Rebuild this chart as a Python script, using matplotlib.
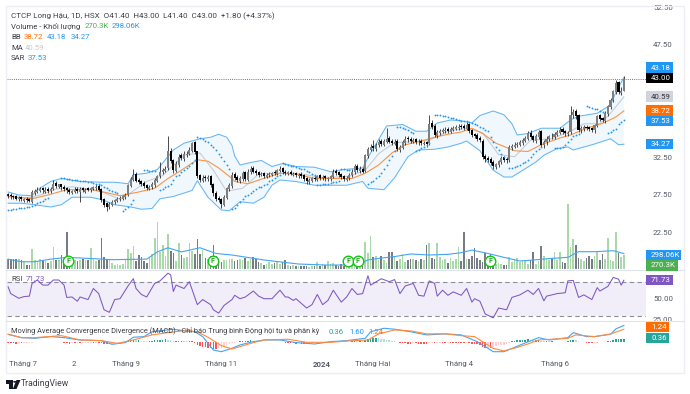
import matplotlib
matplotlib.use('Agg')
import matplotlib.pyplot as plt
from matplotlib.patches import Rectangle, Polygon, Circle

W, H = 690, 394
plt.rcParams['font.family'] = ['Roboto', 'DejaVu Sans']

closes = [27.4,27.3,27.2,27.0,27.1,26.9,26.9,26.8,26.7,27.9,
28.0,28.2,28.3,28.1,28.2,28.0,28.3,29.0,28.7,28.9,
28.5,28.3,28.1,27.9,28.0,28.2,28.0,28.3,28.1,28.2,
28.2,28.4,28.5,28.6,28.2,26.8,26.2,25.9,26.3,26.6,
26.8,27.0,27.1,27.3,27.5,28.8,29.6,30.2,29.4,29.2,
29.0,28.7,28.4,28.6,28.9,29.5,30.0,30.6,30.8,31.0,
33.3,32.0,30.8,31.6,32.6,32.4,32.9,33.0,33.5,34.4,
33.2,30.0,29.5,29.8,29.7,29.9,28.8,27.7,27.0,26.8,
26.3,27.2,28.4,28.8,30.2,29.8,29.5,29.7,30.4,29.6,
30.6,31.0,30.6,30.4,30.2,30.3,30.0,30.2,30.3,30.4,
30.4,30.8,31.0,30.5,30.4,30.5,30.3,30.3,30.2,30.2,
30.0,29.6,29.3,29.5,29.7,29.6,30.0,29.8,29.9,29.7,
29.7,30.0,30.6,30.4,30.2,29.9,29.6,29.8,30.2,30.6,
31.3,30.8,30.9,30.6,32.8,33.6,33.9,33.7,34.2,34.6,
34.3,34.7,35.0,34.6,34.4,34.6,33.6,33.9,34.5,35.0,
34.9,34.7,34.8,34.6,34.6,34.4,34.4,34.3,37.0,36.6,
35.5,35.9,36.0,36.1,36.2,36.0,36.3,36.4,36.5,36.6,
36.6,36.4,36.8,36.0,35.5,35.4,35.0,34.8,32.6,32.3,
32.2,31.8,31.3,31.6,32.0,32.4,32.2,32.1,33.9,34.0,
34.2,34.3,34.5,34.8,35.1,35.7,35.2,34.8,35.3,35.9,
34.2,34.6,35.0,35.3,35.3,35.6,35.9,36.2,35.9,35.7,
35.8,38.2,38.6,38.0,36.2,36.4,36.5,36.4,36.3,36.2,
36.8,38.0,37.6,37.5,38.4,39.3,40.2,41.3,42.4,41.2,41.4,43.0]
opens = [27.6,27.5,27.4,27.3,26.9,27.2,26.7,27.0,26.9,26.6,
27.7,27.9,28.0,28.4,27.9,28.3,28.0,28.3,29.1,28.6,
28.9,28.6,28.4,28.2,27.8,27.9,28.3,27.9,28.4,27.9,
28.4,28.1,28.3,28.4,28.7,28.3,26.9,26.4,25.9,26.2,
26.5,26.7,26.9,27.0,27.2,27.5,28.7,29.5,30.3,29.5,
29.3,29.1,28.8,28.3,28.5,28.8,29.4,30.0,30.5,30.7,
31.1,33.4,32.1,30.7,31.5,32.8,32.3,32.8,33.0,33.4,
34.5,33.3,30.1,29.4,29.9,29.6,30.0,28.9,27.8,27.1,
26.9,26.2,27.1,28.3,28.7,30.3,29.9,29.4,29.6,30.5,
29.5,30.5,31.1,30.7,30.5,30.1,30.4,29.9,30.1,30.2,
30.6,30.3,30.7,31.1,30.6,30.3,30.6,30.2,30.4,30.0,
30.3,30.1,29.7,29.2,29.4,29.8,29.5,30.1,29.7,30.0,
29.6,29.6,29.9,30.7,30.5,30.3,30.0,29.5,29.7,30.1,
30.5,31.4,30.7,31.0,30.7,32.7,33.5,34.0,33.6,34.1,
34.7,34.2,34.6,35.1,34.7,34.3,34.7,33.5,33.8,34.4,
35.1,35.0,34.6,34.9,34.5,34.7,34.3,34.5,34.4,37.1,
36.7,35.4,35.8,35.9,36.0,36.3,35.9,36.2,36.3,36.4,
36.7,36.7,36.3,36.9,36.1,35.6,35.5,35.1,34.7,32.7,
32.4,32.3,31.9,31.2,31.5,31.9,32.5,32.3,32.2,33.8,
33.9,34.1,34.2,34.4,34.7,35.0,35.8,35.3,34.7,35.2,
36.0,34.1,34.5,34.9,35.4,35.2,35.5,35.8,36.3,36.0,
35.6,35.9,38.1,38.7,38.1,36.1,36.3,36.6,36.5,36.4,
36.1,36.7,38.1,37.7,37.4,38.3,39.2,40.1,41.2,42.5,41.1,41.4]
highs = [27.8,27.7,27.5,27.5,27.3,27.4,27.1,27.2,27.1,28.2,
28.3,28.5,28.6,28.6,28.5,28.5,28.5,29.5,29.3,29.0,
29.0,28.8,28.6,28.4,28.2,28.5,28.5,28.5,28.6,28.4,
28.6,28.6,28.7,28.9,28.9,28.4,27.1,26.6,26.5,26.8,
27.0,27.2,27.3,27.5,27.7,29.0,29.9,31.0,30.5,29.8,
29.5,29.3,29.0,28.8,29.2,29.7,30.2,31.9,31.1,31.3,
35.3,33.7,32.3,32.0,33.0,33.1,33.3,33.3,33.9,34.6,
34.7,33.4,30.3,30.1,30.1,30.2,30.1,29.1,28.0,27.3,
27.1,27.5,28.6,29.1,30.5,30.5,30.2,30.0,30.7,30.7,
30.9,31.3,31.3,30.9,30.7,30.5,30.6,30.4,30.5,30.6,
30.8,31.0,31.3,31.2,30.8,30.7,30.8,30.5,30.6,30.4,
30.5,30.3,29.9,29.7,29.9,30.0,30.2,30.3,30.1,30.1,
29.9,30.2,30.9,31.0,30.7,30.4,30.2,30.0,30.4,31.0,
31.6,31.6,31.3,31.2,33.0,33.9,34.3,34.8,34.4,34.9,
35.0,35.0,36.4,35.3,35.0,34.9,34.9,34.2,34.8,35.3,
35.4,35.2,35.1,35.1,34.9,34.9,34.7,34.7,38.2,37.5,
36.9,36.2,36.3,36.4,36.5,36.5,36.5,36.7,36.8,36.9,
37.0,36.9,37.2,37.1,36.3,35.8,35.7,35.3,34.9,33.0,
32.7,32.5,32.1,31.8,32.2,32.7,32.7,32.5,34.2,34.3,
34.5,34.6,34.8,35.1,35.4,36.0,36.1,35.5,35.6,36.2,
36.2,34.8,35.3,35.5,35.7,35.9,36.1,36.5,36.5,36.2,
36.0,39.3,39.0,38.9,38.3,36.7,36.8,36.8,36.7,36.6,
37.0,38.2,38.3,37.9,38.7,39.5,40.4,41.5,42.8,42.7,41.9,43.4]
lows = [27.1,27.0,26.9,26.8,26.7,26.7,26.6,26.6,26.5,26.4,
27.5,27.7,27.9,27.8,27.7,27.8,27.8,28.1,28.4,28.4,
28.2,28.0,27.8,27.6,27.6,27.7,27.8,26.6,27.9,27.7,
28.0,27.9,28.1,28.2,28.0,26.5,25.9,25.3,25.6,26.0,
26.3,26.5,26.7,26.8,27.0,27.3,28.5,29.3,29.2,28.9,
28.7,28.4,28.1,28.1,28.3,28.6,29.2,29.8,30.3,30.5,
30.8,31.7,30.4,30.5,31.2,32.1,32.0,32.5,32.8,33.2,
33.0,29.7,29.2,29.2,29.4,29.3,28.5,27.4,26.7,26.5,
25.8,26.0,26.9,28.0,28.4,29.5,29.2,29.1,29.4,29.3,
29.3,30.3,30.4,30.2,29.9,30.0,29.8,29.7,29.9,30.0,
30.2,30.1,30.5,30.3,30.1,30.1,30.1,30.0,29.9,29.8,
29.7,29.3,29.0,29.0,29.2,29.3,29.3,29.5,29.5,29.4,
29.4,29.4,29.7,30.1,29.9,29.6,29.3,29.3,29.5,29.9,
30.3,30.5,30.4,30.4,30.5,32.4,33.3,33.4,33.4,33.9,
34.0,34.0,34.4,34.4,34.1,34.1,33.3,33.2,33.6,34.2,
34.6,34.4,34.4,34.3,34.2,34.1,34.1,33.9,34.2,36.3,
35.2,35.1,35.5,35.7,35.8,35.7,35.7,36.0,36.1,36.2,
36.3,36.1,36.1,35.7,35.2,35.1,34.7,34.5,32.3,31.9,
31.9,31.5,30.9,30.9,31.2,31.6,31.9,31.8,31.9,33.5,
33.7,33.9,34.0,34.2,34.5,34.8,34.9,34.5,34.4,35.0,
33.9,33.8,34.2,34.7,35.0,35.0,35.3,35.6,35.6,35.4,
35.3,35.6,37.7,37.6,35.9,35.8,36.0,36.1,36.0,35.9,
35.8,36.5,37.3,37.2,37.1,38.0,39.0,39.9,41.0,40.9,40.8,41.4]

volume = [190,200,190,185,190,180,150,80,70,385,
170,160,190,170,160,120,150,430,180,170,
270,180,720,150,100,170,160,170,190,175,
180,400,200,150,170,590,240,200,170,120,
80,90,70,100,190,380,310,440,150,270,
230,160,110,240,280,600,900,320,460,250,
670,350,300,150,500,270,220,240,500,350,
280,570,280,370,220,200,250,460,260,180,
130,180,170,200,190,160,170,190,180,210,
150,190,225,190,140,120,70,100,130,90,
110,150,100,130,170,80,50,70,60,55,
50,60,55,45,60,50,140,60,90,70,
150,100,120,70,60,100,50,40,50,90,
120,80,70,60,530,300,640,240,260,170,
260,170,120,330,320,230,150,200,280,130,
170,190,200,180,150,200,170,460,510,220,
200,495,230,170,200,120,210,150,200,430,
150,720,200,190,260,400,215,170,140,300,
250,280,150,90,110,90,70,80,240,140,
170,210,130,170,160,100,180,320,100,150,
440,260,200,170,210,330,180,320,130,120,
1254,430,580,460,220,190,160,210,260,190,
250,320,170,280,190,600,170,150,720,300,230,270]
vol_ma_idx = [0,5,10,16,22,30,39,52,56,60,65,72,78,84,96,109,119,131,135,139,145,151,158,165,170,174,180,186,192,197,204,210,214,220,227,231]
vol_ma = [190,140,140,190,225,205,180,190,330,410,330,410,300,270,174,96,77,77,174,205,240,290,270,283,315,366,300,225,154,174,205,225,334,334,353,298]

bb_up_idx = [0,4,9,11,16,20,27,35,40,45,47,52,56,59,62,66,72,76,79,82,84,85,87,92,95,99,103,108,115,121,126,133,136,139,142,148,153,157,161,166,170,174,177,182,186,189,191,195,200,207,211,214,221,226,228,231]
bb_up = [27.9,27.5,27.4,28.2,29.3,29.7,29.3,29.2,29.2,29.0,30.2,30.4,30.9,32.2,33.5,34.4,35.0,35.2,35.6,35.2,34.1,32.7,31.5,31.9,32.1,31.3,31.7,31.3,31.2,30.6,30.9,31.1,33.1,34.9,36.7,36.9,36.0,36.0,37.1,37.5,37.4,37.1,38.1,38.7,38.2,37.0,35.5,35.7,36.4,36.4,37.5,38.0,38.4,39.5,41.2,43.18]
bb_lo_idx = [0,5,10,16,20,24,31,35,40,46,50,54,57,62,69,71,75,80,83,87,92,96,99,102,108,115,121,127,133,135,141,145,150,154,160,165,170,172,177,182,186,189,194,198,201,206,210,212,220,226,229,231]
bb_lo = [26.4,26.4,26.2,25.9,26.2,27.2,27.2,26.9,26.2,25.9,25.6,25.7,27.0,27.3,28.1,29.4,27.2,25.5,25.4,26.6,26.4,27.2,28.8,29.5,29.3,28.8,28.8,28.8,29.3,28.4,28.2,29.8,32.6,33.5,33.6,33.9,34.4,34.7,33.4,30.8,29.9,29.9,31.0,31.9,32.8,33.7,33.9,33.5,34.3,35.0,34.2,34.27]
bb_mid_idx = [0,9,15,22,32,37,42,49,55,60,65,71,75,79,84,85,90,95,102,108,115,122,129,134,139,144,149,154,159,165,170,174,178,183,190,195,200,207,211,217,223,228,231]
bb_mid = [27.3,27.0,27.5,28.2,28.2,27.8,27.4,27.9,28.4,29.7,30.8,32.2,32.0,31.1,29.7,29.3,29.0,29.6,30.4,30.3,29.7,29.7,29.7,30.4,31.5,33.1,34.2,34.6,35.1,35.6,35.9,36.4,35.7,34.4,33.4,33.3,34.2,35.1,35.5,36.4,37.05,37.9,38.72]
ma_idx = [0,5,9,13,18,24,30,36,42,46,52,58,66,72,77,82,88,94,100,110,118,128,134,139,145,152,158,165,172,178,184,190,196,204,211,216,222,226,231]
ma = [27.3,27.1,27.2,27.6,28.3,28.6,28.3,27.8,26.9,27.8,29.3,30.1,32.8,33.1,30.8,28.0,28.4,30.3,30.4,30.3,29.8,30.0,30.8,33.0,34.5,34.6,34.8,36.0,36.4,35.8,32.9,32.6,34.8,35.0,36.0,37.0,37.0,38.4,40.59]

sar_start = [0,20,43,51,57,71,84,96,103,116,125,135,146,153,160,188,205,217,225]
sar_vals = [
[25.5,25.55,25.6,25.65,25.7,25.75,25.8,25.85,25.9,26.0,26.2,26.4,26.6,26.75,26.9,27.05],
[29.7,29.7,29.65,29.6,29.55,29.5,29.45,29.4,29.35,29.3,29.25,29.2,29.1,29.0,28.9,28.8,28.6,28.4,28.2,28.0,27.85,27.7],
[25.4,25.6,25.9,26.3,26.8],
[30.8,30.8,30.75,30.7,30.65],
[28.2,28.3,28.5,28.7,29.0,29.5,30.0,30.2,30.5,30.8,31.1,31.4,31.8,32.2],
[35.2,35.1,34.9,34.7,34.5,34.2,33.9,33.5,33.0,32.5,32.0,31.5,30.9],
[25.6,25.8,26.1,26.5,27.0,27.3,27.5,27.8,28.0,28.3,28.5,28.6],
[28.8,29.0,29.3,29.5,29.8,30.0,30.2],
[31.7,31.6,31.5,31.4,31.3,31.2,31.1,31.0,30.9,30.7,30.5,30.3,30.1],
[28.8,28.85,28.9,28.95,29.0,29.1,29.2,29.25,29.3],
[30.9,30.9,30.85,30.8],
[29.0,29.2,29.4,29.7,30.0,30.4,30.9,31.5,32.1,32.7,33.3],
[36.5,36.5,36.4,36.3,36.1,35.9,35.7],
[33.3,33.5,33.7,33.9,34.1,34.4],
[38.2,38.2,38.1,38.0,38.0,37.9,37.8,37.7,37.6,37.5,37.4,37.3,37.3,37.2,37.1,37.0,36.8,36.6,36.4,36.2,36.0,35.2,34.5,33.9,33.5,33.0,32.6],
[31.05,31.1,31.2,31.3,31.5,31.7,31.9,32.2,32.6,33.0,33.3,33.6,33.9],
[33.7,33.8,33.8,33.9,34.2,34.5,34.9,35.3,35.5,35.6],
[39.3,39.2,39.1,39.0,38.9,38.7,38.6],
[35.7,35.9,36.1,36.3,36.9,37.2,37.53]]

rsi_idx = [0,1,4,6,8,9,11,13,15,17,19,21,22,24,26,27,30,32,34,36,38,40,42,45,47,48,50,52,55,57,60,61,62,63,66,68,71,73,76,77,79,81,84,
85,87,89,92,94,96,99,102,104,105,107,108,112,114,116,118,120,122,125,127,129,131,133,135,136,140,143,145,147,149,152,154,156,158,160,161,163,165,167,170,
172,174,175,177,179,182,184,187,189,192,195,197,199,201,202,206,209,210,212,214,216,219,221,222,225,227,229,230,231]
rsi = [64,56,50.5,52.5,53,68,72,66,66,72,72,66,51.5,52,47,52,49,62,56,37,34,49,50,65,73.5,62,55,52,68,71,80,78,58.5,66,62,70,43,49,43,37,33,42,49,
54,50,52,59,53,50,50,60,52,52,48,50,39,43,55,43,48,60,46,52,62,55,56,77,66,73.5,70,72.5,56,65,68,54,53,71,68,53,60,54,58,54,
62,46,50,47,32,27.5,39,37,51.5,54.5,60,55,62,47.5,53,56,57,71,71.5,51.5,54.5,49,63,59,64.5,75,73,66,71.73]

macd_idx = [0,5,10,16,21,27,35,39,44,47,51,54,62,66,70,73,77,80,84,87,92,96,102,108,115,121,127,134,136,141,145,151,157,164,170,176,179,182,186,190,193,199,203,210,212,217,220,226,228,231]
macd = [.76,.44,.38,.54,.44,.22,.16,-.19,-.03,.48,.54,1.0,1.24,1.1,1.0,.54,-.73,-.89,-.57,-.25,.06,.22,.22,-.03,-.16,.06,.16,.38,1.0,1.33,1.24,1.0,.7,.8,.7,.06,-.41,-.89,-.89,-.48,-.16,.44,.22,.44,.92,.54,.54,.76,1.27,1.6]
signal_idx = [0,5,10,20,27,35,41,47,54,60,66,71,75,80,84,87,92,96,105,112,121,128,135,139,145,151,157,164,170,175,178,182,186,191,195,199,210,213,220,226,231]
signal = [.76,.44,.44,.63,.22,.16,-.1,.22,.7,.92,1.1,1.0,.48,-.32,-.63,-.41,-.03,.22,.29,0,0,.13,.22,.8,1.17,1.08,.8,.8,.63,.54,.06,-.57,-.82,-.48,-.16,.22,.38,.7,.54,.79,1.24]
hist = [-.05,-.08,-.10,-.12,-.10,-.10,-.08,-.05,-.03,-.02,
.02,.04,.05,.05,.04,.04,.05,.04,.03,.03,
.02,-.05,-.10,-.12,-.10,-.10,-.08,-.08,-.06,-.05,
-.04,-.03,-.03,-.02,-.04,-.10,-.15,-.18,-.15,-.12,
-.08,-.05,.02,.05,.08,.12,.18,.22,.2,.2,
.15,.1,.08,.1,.12,.18,.2,.22,.25,.3,
.25,.2,.1,.1,.12,.12,.1,.08,.1,.14,
-.1,-.25,-.35,-.4,-.45,-.5,-.55,-.6,-.6,-.55,
-.5,-.4,-.3,-.2,-.1,-.05,.05,.08,.1,.12,
.15,.18,.16,.12,.1,.08,.06,.05,.05,.05,
.03,.04,.04,.02,-.03,-.05,-.08,-.1,-.12,-.1,
-.12,-.15,-.15,-.12,-.1,-.05,-.03,.02,.03,.03,
.03,.06,.08,.08,.06,.04,.02,.03,.05,.1,
.12,.1,.1,.09,.2,.28,.35,.4,.42,.4,
.35,.3,.25,.18,.12,.1,.05,-.05,-.08,-.1,
-.12,-.12,-.1,-.1,-.14,-.14,-.16,-.16,-.05,-.02,
-.08,-.06,-.05,-.05,-.06,-.04,-.05,-.05,-.05,-.05,
-.05,-.08,-.05,-.1,-.15,-.18,-.2,-.22,-.45,-.55,
-.5,-.5,-.45,-.35,-.3,-.25,-.22,-.2,-.02,.1,
.15,.18,.2,.22,.25,.28,.25,.2,.2,.2,
.12,.1,.1,.08,.08,.06,.06,.06,.05,.05,
.08,.2,.25,.2,.1,.06,.03,-.02,-.06,-.08,
-.05,-.02,.02,.04,.06,.1,.16,.25,.32,.36,.36,.36]

price_ticks = [52.5,47.5,32.5,27.5,22.5]
rsi_ticks = [50,25]
time_pos = [5.6,24.7,44.2,79.8,117.6,136.7,169.3,205.2]
time_labels = ['Tháng 7','2','Tháng 9','Tháng 11','2024','Tháng Hai','Tháng 4','Tháng 6']
dividend_idx = [22.5,76.8,127.7,131.1,180.9]

GREY = '#555b66'
BLUE = '#2196f3'
ORANGE = '#ff6d00'
GREEN = '#4caf50'
PURPLE = '#7e57c2'
TEAL = '#26a69a'
SMALL = 5.6
AXIS = 5.7

fig = plt.figure(figsize=(W/100, H/100), dpi=100, facecolor='white')

def add_ax(top, bottom):
    ax = fig.add_axes([7/W, 1-bottom/H, (646-7)/W, (bottom-top)/H])
    ax.set_xlim(-0.4, 239.3)
    ax.patch.set_alpha(0)
    for s in ax.spines.values():
        s.set_visible(False)
    ax.tick_params(length=0, labelsize=AXIS, labelcolor=GREY, pad=5)
    ax.yaxis.tick_right()
    ax.set_xticks([])
    return ax

def ftext(x, y, s, color='#3b3f48', size=SMALL, **kw):
    kw.setdefault('va', 'center')
    fig.text(x/W, 1-y/H, s, color=color, fontsize=size, **kw)

def label_box(y, x1, s, bg, fg='white'):
    fig.patches.append(Rectangle((646/W, 1-(y+5.3)/H), (x1-646)/W, 10.6/H, transform=fig.transFigure,
                                 facecolor=bg, edgecolor='none', zorder=5))
    fig.text(651/W, 1-y/H, s, color=fg, fontsize=AXIS, va='center', zorder=6)

# khung ngoai
fig.patches.append(Rectangle((6/W, 1-372.5/H), 678/W, 366.5/H, transform=fig.transFigure,
                             facecolor='none', edgecolor='#eceef4', lw=1))
for y in (269.5, 321):
    fig.add_artist(plt.Line2D([6/W, 684/W], [1-y/H, 1-y/H], color='#e0e3eb', lw=0.8))

# gia
ax = add_ax(6, 269)
ax.set_ylim(17.63, 52.7)
ax.fill(list(bb_up_idx) + bb_lo_idx[::-1], list(bb_up) + bb_lo[::-1], color='#e9f4fd', alpha=0.6, lw=0, zorder=1)
ax.plot(bb_up_idx, bb_up, color='#64b5f6', lw=0.75, zorder=2)
ax.plot(bb_lo_idx, bb_lo, color='#64b5f6', lw=0.75, zorder=2)
ax.plot(ma_idx, ma, color='#c9ccd3', lw=0.8, zorder=2)
ax.plot(bb_mid_idx, bb_mid, color='#f7954a', lw=0.8, zorder=3)
idx = list(range(len(closes)))
ax.vlines(idx, lows, highs, color='#1a1a1a', lw=0.55, zorder=4)
up = [c >= o for o, c in zip(opens, closes)]
bottoms = [min(o, c) for o, c in zip(opens, closes)]
heights = [max(abs(c-o), 0.1) for o, c in zip(opens, closes)]
ax.bar(idx, heights, bottom=bottoms, width=0.8, color=['#7f7f7f' if u else '#000000' for u in up], lw=0, zorder=5)
for start, vals in zip(sar_start, sar_vals):
    ax.plot(range(start, start+len(vals)), vals, ls='none', marker='o', ms=1.35, mew=0, color=BLUE, zorder=6)
ax.axhline(43.0, color='#6e7280', lw=0.7, ls=(0, (1, 1.2)), zorder=3)
ax.set_yticks(price_ticks, [f'{t:.2f}' for t in price_ticks])

# khoi luong
vax = add_ax(6, 269)
vax.set_ylim(0, 263*19.3)
vax.set_yticks([])
vax.bar(idx, volume, width=0.62, color=['#a9d8aa' if u else '#777b84' for u in up], lw=0, zorder=2)
vax.plot(vol_ma_idx, vol_ma, color='#42a5f5', lw=0.8, zorder=3)
for d in dividend_idx:
    vax.plot(d, 154, marker='o', ms=7.6, mfc='white', mec='#11c511', mew=1.0, zorder=4)
    vax.text(d, 154, 'F', color='#11a811', fontsize=5, fontweight='bold', ha='center', va='center', zorder=5)

# RSI
rax = add_ax(270, 321)
rax.set_ylim(30-(321-315.7)/0.85, 70+(281.7-270)/0.85)
rax.axhspan(30, 70, color='#f1edf9', lw=0, zorder=1)
rax.axhline(70, color='#8b8f99', lw=0.8, ls=(0, (4, 3)), zorder=2)
rax.axhline(30, color='#8b8f99', lw=0.8, ls=(0, (4, 3)), zorder=2)
rax.plot(rsi_idx, rsi, color=PURPLE, lw=0.75, zorder=3)
rax.set_yticks(rsi_ticks, ['50.00', '25.00'])
rax.set_ylim(30-(321-315.7)/0.85, 70+(281.7-270)/0.85)

# MACD
max_ = add_ax(321, 354)
max_.set_ylim(-1.11, 2.02)
hist_colors = []
prev = 0
for h in hist:
    if h >= 0:
        hist_colors.append('#26a69a' if h >= prev else '#b2dfdb')
    else:
        hist_colors.append('#ff5252' if h <= prev else '#ffcdd2')
    prev = h
max_.bar(idx, hist, width=0.6, color=hist_colors, lw=0, zorder=2)
max_.plot(macd_idx, macd, color='#42a5f5', lw=0.8, zorder=3)
max_.plot(signal_idx, signal, color='#ff8a3d', lw=0.8, zorder=4)
max_.set_yticks([])
max_.set_xticks(time_pos, time_labels)
max_.tick_params(axis='x', pad=5, labelsize=SMALL)
for t in max_.get_xticklabels():
    if t.get_text() == '2024':
        t.set_fontweight('bold')

# chu phan dau
ftext(11, 15.7, 'CTCP Long Hậu, 1D, HSX  O41.40  H43.00  L41.40  C43.00  +1.80 (+4.37%)', size=5.8)
ftext(11, 26.3, 'Volume - Khối lượng')
ftext(85, 26.3, '270.3K', color=GREEN)
ftext(112, 26.3, '298.06K', color=BLUE)
ftext(11, 37, 'BB')
ftext(24, 37, '38.72', color=ORANGE)
ftext(47, 37, '43.18', color=BLUE)
ftext(71, 37, '34.27', color=BLUE)
ftext(11, 47.7, 'MA')
ftext(25, 47.7, '40.59', color='#c4c7ce')
ftext(11, 58.3, 'SAR')
ftext(28, 58.3, '37.53', color=BLUE)
ftext(11, 279, 'RSI')
ftext(26, 279, '71.73', color=PURPLE)
ftext(11, 331.5, 'Moving Average Convergence Divergence (MACD) - Chỉ báo Trung bình Động hội tụ và phân kỳ', size=5.35)
ftext(329, 331.5, '0.36', color=TEAL)
ftext(349, 331.5, '1.60', color=BLUE)
ftext(368, 331.5, '1.24', color=ORANGE)

label_box(67.5, 673, '43.18', BLUE)
label_box(78, 673, '43.00', '#000000')
label_box(96.7, 673, '40.59', '#d1d4dc', '#333333')
label_box(110.7, 673, '38.72', ORANGE)
label_box(121, 673, '37.53', BLUE)
label_box(144, 673, '34.27', BLUE)
label_box(255, 681, '298.06K', BLUE)
label_box(265.3, 678, '270.3K', GREEN)
label_box(280, 673, '71.73', PURPLE)
label_box(327, 669, '1.24', ORANGE)
label_box(338, 669, '0.36', TEAL)

# logo
fig.patches.append(Polygon([(6/W, 1-380/H), (12.5/W, 1-380/H), (12.5/W, 1-389/H), (9/W, 1-389/H), (9/W, 1-384/H), (6/W, 1-384/H)],
                           transform=fig.transFigure, facecolor='#131722', edgecolor='none'))
fig.patches.append(Polygon([(16.5/W, 1-380/H), (20.5/W, 1-380/H), (16.5/W, 1-389/H), (12.8/W, 1-389/H)],
                           transform=fig.transFigure, facecolor='#131722', edgecolor='none'))
fig.add_artist(Circle((14.8/W, 1-381.8/H), 1.6/W, transform=fig.transFigure, facecolor='#131722', edgecolor='none'))
ftext(21, 384, 'TradingView', color='#3b3f48', size=6.2)

fig.savefig('out.png', dpi=100)
